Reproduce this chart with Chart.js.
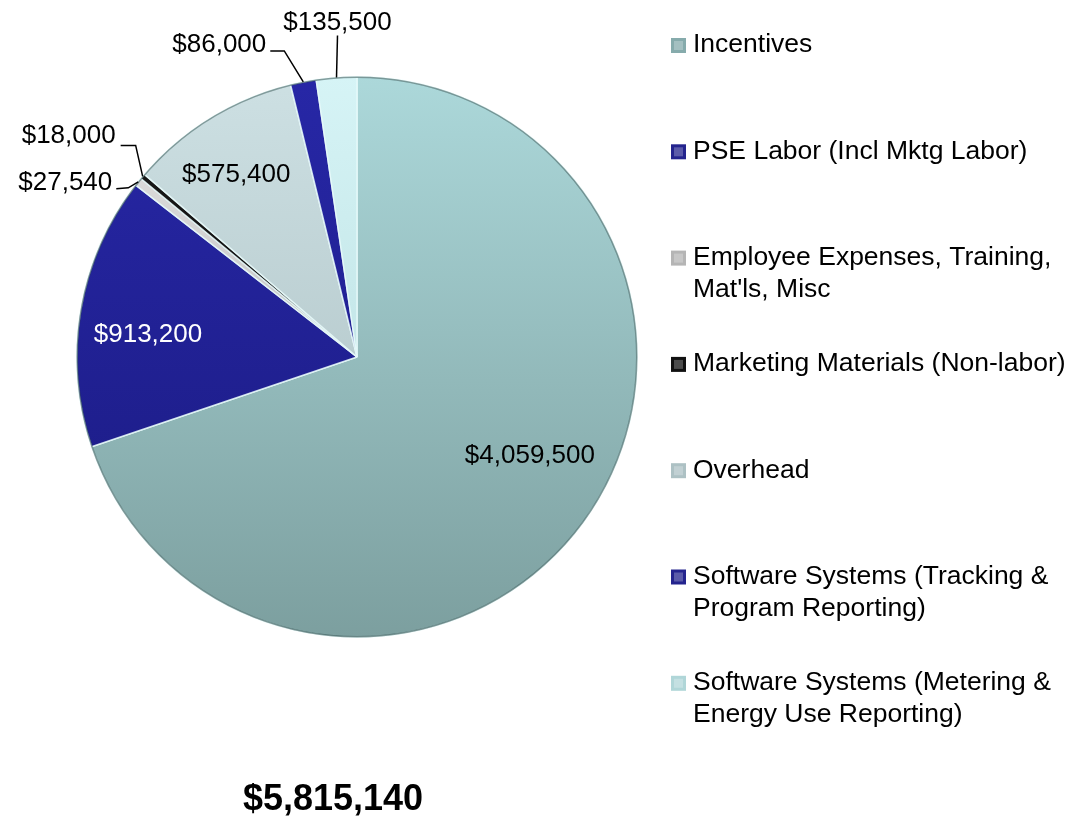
<!DOCTYPE html>
<html lang="en">
<head>
<meta charset="UTF-8">
<title>Program Budget</title>
<script src="https://cdn.jsdelivr.net/npm/chart.js"></script>
<style>
  html, body { margin: 0; padding: 0; background: #fff; }
  #wrap { width: 1068px; height: 822px; }
</style>
</head>
<body>
<div id="wrap"><canvas id="budgetChart" width="1068" height="822"></canvas></div>
<script>
// budget categories (legend text, one entry per line)
var categories = [
  ['Incentives'],
  ['PSE Labor (Incl Mktg Labor)'],
  ['Employee Expenses, Training,', "Mat'ls, Misc"],
  ['Marketing Materials (Non-labor)'],
  ['Overhead'],
  ['Software Systems (Tracking &', 'Program Reporting)'],
  ['Software Systems (Metering &', 'Energy Use Reporting)']
];
var amounts = [4059500, 913200, 27540, 18000, 575400, 86000, 135500];

// slice colours, light top -> darker bottom
var topColors = ['#acd8da', '#2727a6', '#e4e4e4', '#1c1c1c', '#cde0e3', '#2727a6', '#d6f4f6'];
var bottomColors = ['#7c9f9f', '#1a1a80', '#a8a8a8', '#000000', '#a8bcbf', '#1a1a80', '#b2d8da'];
var legendColors = ['#86abac', '#24248e', '#b5b5b5', '#111111', '#adc1c4', '#24248e', '#b0d6d8'];
var labelColors = ['#000', '#fff', '#000', '#000', '#000', '#000', '#000'];

var FONT = "'Liberation Sans', Arial, sans-serif";

function money(v) {
  return '$' + v.toLocaleString('en-US');
}
var total = amounts.reduce(function (a, b) { return a + b; }, 0);

// where each value label goes: inside the slice, or outside with a leader line
var labelPlacement = [
  { inside: true, f: 0.71, shift: -6 },
  { inside: true, f: 0.75, shift: -3.5 },
  { inside: false, path: [[-10, 6], [-22, 7]], text: [-26, 1], align: 'right' },
  { inside: false, path: [[-7, -31], [-22, -31]], text: [-27, -41], align: 'right' },
  { inside: true, f: 0.78, shift: -2 },
  { inside: false, path: [[-19, -31], [-33, -31]], text: [-37, -37], align: 'right' },
  { inside: false, path: [[1, -42]], text: [1, -55], align: 'center' }
];

var pieDecor = {
  id: 'pieDecor',
  afterDatasetsDraw: function (chart) {
    var ctx = chart.ctx;
    var arcs = chart.getDatasetMeta(0).data;
    ctx.save();
    // darker rim round the pie
    var a0 = arcs[0];
    ctx.beginPath();
    ctx.arc(a0.x, a0.y, a0.outerRadius - 0.5, 0, Math.PI * 2);
    ctx.strokeStyle = 'rgba(50,80,80,0.55)';
    ctx.lineWidth = 1.5;
    ctx.stroke();

    ctx.font = '26px ' + FONT;
    ctx.textBaseline = 'middle';
    arcs.forEach(function (arc, i) {
      var p = labelPlacement[i];
      var mid = (arc.startAngle + arc.endAngle) / 2;
      var txt = money(amounts[i]);
      if (p.inside) {
        var ang = mid + p.shift * Math.PI / 180;
        var r = arc.outerRadius * p.f;
        ctx.fillStyle = labelColors[i];
        ctx.textAlign = 'center';
        ctx.fillText(txt, arc.x + Math.cos(ang) * r, arc.y + Math.sin(ang) * r);
      } else {
        var ax = arc.x + Math.cos(mid) * arc.outerRadius;
        var ay = arc.y + Math.sin(mid) * arc.outerRadius;
        ctx.beginPath();
        ctx.moveTo(ax, ay);
        p.path.forEach(function (pt) { ctx.lineTo(ax + pt[0], ay + pt[1]); });
        ctx.strokeStyle = '#000';
        ctx.lineWidth = 1.5;
        ctx.stroke();
        ctx.fillStyle = '#000';
        ctx.textAlign = p.align;
        ctx.fillText(txt, ax + p.text[0], ay + p.text[1]);
      }
    });
    ctx.restore();
  },
  afterDraw: function (chart) {
    var ctx = chart.ctx;
    ctx.save();
    // legend on the right
    ctx.font = '26.5px ' + FONT;
    ctx.textBaseline = 'middle';
    ctx.textAlign = 'left';
    categories.forEach(function (lines, i) {
      var y = 45 + 106.3 * i;
      ctx.fillStyle = legendColors[i];
      ctx.fillRect(671, y - 7, 15, 15);
      ctx.fillStyle = 'rgba(255,255,255,0.25)';
      ctx.fillRect(674, y - 4, 9, 9);
      ctx.fillStyle = '#000';
      lines.forEach(function (ln, k) {
        ctx.fillText(ln, 693, y + k * 32);
      });
    });
    // grand total under the pie
    ctx.font = 'bold 36px ' + FONT;
    ctx.textAlign = 'center';
    ctx.fillText(money(total), 333, 800);
    ctx.restore();
  }
};

function sliceFill(context) {
  var chart = context.chart;
  var area = chart.chartArea;
  var i = context.dataIndex;
  if (!area) return topColors[i];
  var g = chart.ctx.createLinearGradient(0, area.top, 0, area.bottom);
  g.addColorStop(0, topColors[i]);
  g.addColorStop(1, bottomColors[i]);
  return g;
}

new Chart(document.getElementById('budgetChart').getContext('2d'), {
  type: 'pie',
  data: {
    labels: categories.map(function (l) { return l.join(' '); }),
    datasets: [{
      data: amounts,
      backgroundColor: sliceFill,
      borderColor: 'rgba(232,250,250,0.85)',
      borderWidth: 1.5
    }]
  },
  options: {
    responsive: false,
    animation: false,
    layout: { padding: { left: 76, right: 430, top: 76, bottom: 184 } },
    plugins: {
      legend: { display: false },
      tooltip: { enabled: false }
    }
  },
  plugins: [pieDecor]
});
</script>
</body>
</html>
